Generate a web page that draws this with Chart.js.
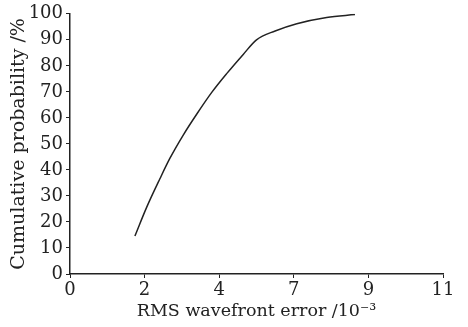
<!DOCTYPE html>
<html>
<head>
<meta charset="utf-8">
<script src="https://cdn.jsdelivr.net/npm/chart.js@4.4.1/dist/chart.umd.min.js"></script>
<style>
  html, body { margin: 0; padding: 0; background: #fff; }
  #wrap { width: 468px; height: 327px; }
</style>
</head>
<body>
<div id="wrap"><canvas id="c"></canvas></div>
<script>
// x positions on the evenly spaced axis (0..10), labelled with xTickLabels
const errX = [1.74, 2.06, 2.41, 2.68, 3.04, 3.40, 3.80, 4.20, 4.65, 5.00, 5.50, 6.08, 6.88, 7.64];
const cumProb = [14.6, 25.8, 36.6, 44.5, 53.5, 61.5, 69.8, 77.0, 84.5, 90.0, 93.4, 96.2, 98.6, 99.7];
const xTickLabels = ['0', '2', '4', '7', '9', '11'];
const yTicks = [0, 10, 20, 30, 40, 50, 60, 70, 80, 90, 100];

const serif = 'DejaVu Serif';
const ink = '#222';

const points = errX.map((x, i) => ({ x: x, y: cumProb[i] }));

new Chart(document.getElementById('c').getContext('2d'), {
    type: 'line',
    data: {
        datasets: [{
            data: points,
            borderColor: ink,
            borderWidth: 1.5,
            pointRadius: 0,
            cubicInterpolationMode: 'monotone',
            fill: false
        }]
    },
    options: {
        responsive: true,
        maintainAspectRatio: false,
        animation: { duration: 0 },
        layout: { padding: { top: 12, right: 25, left: 0, bottom: 0 } },
        plugins: {
            legend: { display: false },
            tooltip: { enabled: false }
        },
        scales: {
            x: {
                type: 'linear',
                min: 0,
                max: 10,
                afterFit: (s) => { s.height = 53; },
                border: { display: true, color: ink, width: 1.5 },
                grid: { drawOnChartArea: false, drawTicks: true, tickLength: 4, color: ink },
                ticks: {
                    stepSize: 2,
                    padding: 2,
                    color: ink,
                    font: { family: serif, size: 18 },
                    callback: (v) => xTickLabels[v / 2]
                },
                title: {
                    display: true,
                    text: 'RMS wavefront error /10⁻³',
                    color: ink,
                    font: { family: serif, size: 17.5 },
                    padding: { top: 0, bottom: 5 }
                }
            },
            y: {
                min: 0,
                max: 100,
                afterFit: (s) => { s.width = 70; },
                afterBuildTicks: (s) => { s.ticks = yTicks.map(v => ({ value: v })); },
                border: { display: true, color: ink, width: 1.5 },
                grid: { drawOnChartArea: false, drawTicks: true, tickLength: 4, color: ink },
                ticks: {
                    padding: 3,
                    color: ink,
                    font: { family: serif, size: 18 }
                },
                title: {
                    display: true,
                    text: 'Cumulative probability /%',
                    color: ink,
                    font: { family: serif, size: 19 },
                    padding: { top: 8, bottom: 0 }
                }
            }
        }
    }
});
</script>
</body>
</html>
